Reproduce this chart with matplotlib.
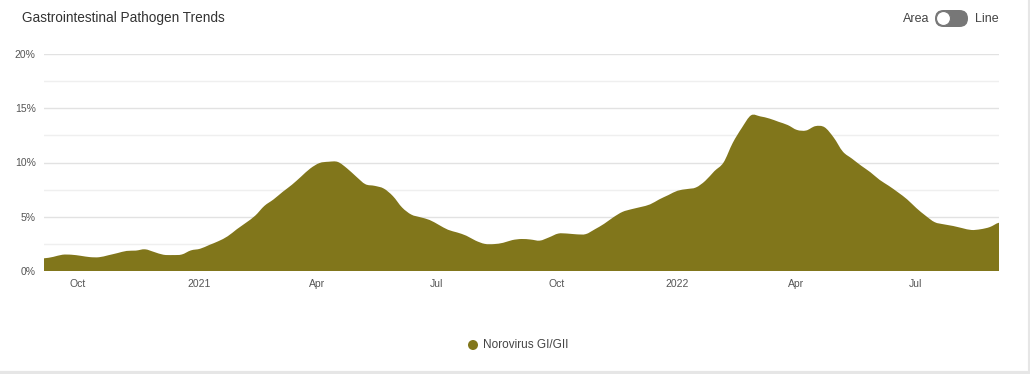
import numpy as np
import pandas as pd
import matplotlib.pyplot as plt
import matplotlib.dates as mdates
from matplotlib.path import Path
from matplotlib.patches import PathPatch, FancyBboxPatch, Circle

plt.rcParams['font.family'] = ['Liberation Sans', 'DejaVu Sans']

# weekly positivity, Norovirus GI/GII (%)
weeks = pd.date_range('2020-09-05', periods=105, freq='7D')
norovirus = [
    1.17, 1.3, 1.5, 1.5, 1.4, 1.28, 1.27, 1.45, 1.65, 1.85,
    1.88, 2.0, 1.75, 1.5, 1.47, 1.52, 1.9, 2.05, 2.4, 2.75,
    3.2, 3.85, 4.45, 5.1, 6.0, 6.6, 7.3, 7.95, 8.7, 9.45,
    9.95, 10.07, 10.05, 9.46, 8.7, 8.0, 7.85, 7.6, 6.9, 5.85,
    5.2, 4.95, 4.7, 4.25, 3.8, 3.55, 3.25, 2.8, 2.5, 2.48,
    2.6, 2.85, 2.95, 2.9, 2.8, 3.1, 3.45, 3.45, 3.38, 3.4,
    3.85, 4.35, 4.95, 5.45, 5.7, 5.9, 6.14, 6.6, 7.0, 7.4,
    7.55, 7.7, 8.3, 9.2, 10.0, 11.8, 13.2, 14.35, 14.25, 14.05,
    13.75, 13.45, 13.0, 12.95, 13.35, 13.25, 12.3, 11.0, 10.35, 9.7,
    9.1, 8.4, 7.85, 7.25, 6.6, 5.8, 5.1, 4.5, 4.3, 4.15,
    3.95, 3.78, 3.85, 4.05, 4.45,
]
series_name = 'Norovirus GI/GII'
y_ticks = [0, 5, 10, 15, 20]
olive = '#81761b'

fig = plt.figure(figsize=(10.30, 3.74), dpi=100)
ax = fig.add_axes([44/1030, 103/374, 955/1030, 217/374])

# smooth (bezier) area through the weekly points, like the web chart's spline
xs = mdates.date2num(weeks)
ys = np.asarray(norovirus, float)
verts = [(xs[0], 0), (xs[0], ys[0])]
codes = [Path.MOVETO, Path.LINETO]
for i in range(len(xs) - 1):
    x0, x1 = xs[i], xs[i + 1]
    m0 = (ys[min(i + 1, len(ys) - 1)] - ys[max(i - 1, 0)]) / 2
    m1 = (ys[min(i + 2, len(ys) - 1)] - ys[i]) / 2
    verts += [(x0 + (x1 - x0) / 3, ys[i] + m0 / 3), (x1 - (x1 - x0) / 3, ys[i + 1] - m1 / 3), (x1, ys[i + 1])]
    codes += [Path.CURVE4] * 3
verts += [(xs[-1], 0), (xs[0], 0)]
codes += [Path.LINETO, Path.CLOSEPOLY]
ax.add_patch(PathPatch(Path(verts, codes), fc=olive, ec='none', zorder=3))

ax.set_xlim(weeks[0], weeks[-1])
ax.set_ylim(0, 20)
ax.set_yticks(y_ticks)
ax.set_yticklabels([f'{t}%' for t in y_ticks])
ax.set_yticks(np.arange(2.5, 20, 5), minor=True)
ax.grid(axis='y', which='major', color='#e2e2e2', lw=1, zorder=0)
ax.grid(axis='y', which='minor', color='#efefef', lw=1, zorder=0)

ax.xaxis.set_major_locator(mdates.MonthLocator(bymonth=[1, 4, 7, 10]))
ax.xaxis.set_major_formatter(plt.FuncFormatter(
    lambda v, p: mdates.num2date(v).strftime('%Y' if mdates.num2date(v).month == 1 else '%b')))

for s in ax.spines.values():
    s.set_visible(False)
ax.tick_params(axis='both', which='both', length=0, labelsize=7.5, colors='#555555')
ax.tick_params(axis='y', pad=6)
ax.tick_params(axis='x', pad=6)

# overlay in pixel coords for header, toggle, legend, borders
ov = fig.add_axes([0, 0, 1, 1], zorder=-1)
ov.set_xlim(0, 1030)
ov.set_ylim(374, 0)
ov.axis('off')

ov.text(22, 18, 'Gastrointestinal Pathogen Trends', fontsize=9.8, color='#333333',
        va='center', ha='left')
ov.text(929, 19, 'Area', fontsize=9, color='#444444', va='center', ha='right')
ov.text(975, 19, 'Line', fontsize=9, color='#444444', va='center', ha='left')
ov.add_patch(FancyBboxPatch((935, 10), 33, 17, boxstyle='round,pad=0,rounding_size=8.5',
                            fc='#777777', ec='none'))
ov.add_patch(Circle((943.5, 18.5), 7, fc='white', ec='#777777', lw=0.8))

ov.add_patch(Circle((473, 345), 5, fc=olive, ec='none'))
ov.text(483, 345, series_name, fontsize=8.5, color='#444444', va='center', ha='left')

ov.plot([0, 1030], [372.5, 372.5], color='#e6e6e6', lw=3)
ov.plot([1028.5, 1028.5], [0, 374], color='#e6e6e6', lw=1.5)

fig.savefig('out.png', dpi=100)
